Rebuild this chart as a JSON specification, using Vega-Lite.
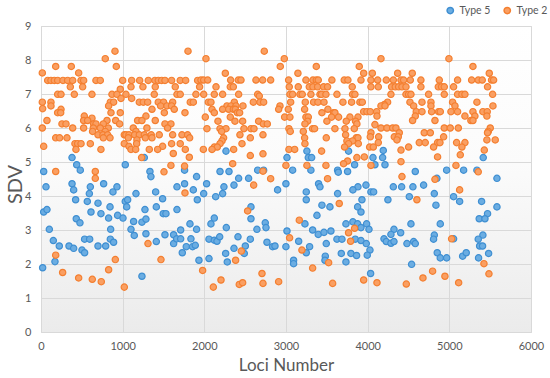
{
"$schema":"https://vega.github.io/schema/vega-lite/v6.json",
"width":490,"height":306,
"autosize":{"type":"none"},
"padding":{"left":41,"top":26,"right":19,"bottom":46},
"background":"#ffffff",
"config":{
"font":"Lato",
"view":{"stroke":"#d9d9d9","fill":{"gradient":"linear","x1":0,"y1":0,"x2":0,"y2":1,"stops":[{"offset":0,"color":"#ffffff"},{"offset":0.45,"color":"#fbfbfb"},{"offset":1,"color":"#ebebeb"}]}},
"axis":{"gridColor":"#d9d9d9","domain":false,"ticks":false,"labelColor":"#595959","labelFontSize":11,"titleColor":"#595959","titleFontWeight":"normal"}
},
"datasets":{
"t5":[
{"locus":380,"sdv":5.13},{"locus":1265,"sdv":5.13},{"locus":437,"sdv":4.92},{"locus":481,"sdv":4.76},{"locus":33,"sdv":4.72},{"locus":1032,"sdv":4.92},{"locus":1334,"sdv":4.72},{"locus":1346,"sdv":4.57},{"locus":1758,"sdv":4.76},{"locus":1905,"sdv":4.57},{"locus":61,"sdv":4.27},{"locus":380,"sdv":4.36},{"locus":400,"sdv":4.18},{"locus":767,"sdv":4.36},{"locus":604,"sdv":4.27},{"locus":930,"sdv":4.27},{"locus":881,"sdv":4.12},{"locus":592,"sdv":4.07},{"locus":1163,"sdv":4.07},{"locus":1404,"sdv":4.12},{"locus":1665,"sdv":4.27},{"locus":1758,"sdv":4.36},{"locus":1865,"sdv":4.18},{"locus":424,"sdv":3.89},{"locus":567,"sdv":3.84},{"locus":698,"sdv":3.79},{"locus":1032,"sdv":3.84},{"locus":1061,"sdv":3.89},{"locus":1489,"sdv":3.92},{"locus":1914,"sdv":3.89},{"locus":1049,"sdv":3.68},{"locus":845,"sdv":3.68},{"locus":1412,"sdv":3.68},{"locus":1273,"sdv":3.60},{"locus":1665,"sdv":3.60},{"locus":33,"sdv":3.53},{"locus":73,"sdv":3.60},{"locus":612,"sdv":3.53},{"locus":734,"sdv":3.48},{"locus":938,"sdv":3.43},{"locus":1004,"sdv":3.35},{"locus":828,"sdv":3.35},{"locus":1497,"sdv":3.48},{"locus":1530,"sdv":3.48},{"locus":432,"sdv":3.33},{"locus":477,"sdv":3.21},{"locus":1134,"sdv":3.25},{"locus":1236,"sdv":3.23},{"locus":1285,"sdv":3.32},{"locus":1824,"sdv":3.18},{"locus":102,"sdv":3.02},{"locus":853,"sdv":3.02},{"locus":1102,"sdv":3.02},{"locus":1710,"sdv":3.00},{"locus":1905,"sdv":3.02},{"locus":1142,"sdv":2.84},{"locus":1285,"sdv":2.89},{"locus":1518,"sdv":2.86},{"locus":1624,"sdv":2.86},{"locus":1624,"sdv":2.60},{"locus":1661,"sdv":2.74},{"locus":1710,"sdv":2.74},{"locus":1836,"sdv":2.74},{"locus":151,"sdv":2.69},{"locus":534,"sdv":2.73},{"locus":596,"sdv":2.73},{"locus":849,"sdv":2.73},{"locus":889,"sdv":2.64},{"locus":1412,"sdv":2.66},{"locus":224,"sdv":2.53},{"locus":343,"sdv":2.53},{"locus":400,"sdv":2.46},{"locus":502,"sdv":2.41},{"locus":534,"sdv":2.33},{"locus":698,"sdv":2.53},{"locus":792,"sdv":2.53},{"locus":1779,"sdv":2.51},{"locus":1856,"sdv":2.51},{"locus":1889,"sdv":2.55},{"locus":1730,"sdv":2.33},{"locus":1934,"sdv":2.11},{"locus":171,"sdv":2.07},{"locus":20,"sdv":1.89},{"locus":1236,"sdv":1.64},
{"locus":2265,"sdv":5.32},{"locus":3256,"sdv":5.32},{"locus":3766,"sdv":5.32},{"locus":3012,"sdv":5.13},{"locus":3273,"sdv":5.13},{"locus":3314,"sdv":5.13},{"locus":2192,"sdv":4.72},{"locus":2302,"sdv":4.72},{"locus":2653,"sdv":4.76},{"locus":2726,"sdv":4.76},{"locus":3081,"sdv":4.76},{"locus":3305,"sdv":4.76},{"locus":3632,"sdv":4.76},{"locus":3640,"sdv":4.70},{"locus":3754,"sdv":4.72},{"locus":3840,"sdv":4.92},{"locus":2420,"sdv":4.52},{"locus":2542,"sdv":4.52},{"locus":2363,"sdv":4.32},{"locus":2240,"sdv":4.27},{"locus":2999,"sdv":4.36},{"locus":3399,"sdv":4.36},{"locus":3416,"sdv":4.27},{"locus":3881,"sdv":4.27},{"locus":3819,"sdv":4.18},{"locus":2028,"sdv":4.36},{"locus":1992,"sdv":4.07},{"locus":2139,"sdv":3.98},{"locus":2224,"sdv":4.07},{"locus":3248,"sdv":4.12},{"locus":3248,"sdv":3.89},{"locus":3632,"sdv":4.07},{"locus":2897,"sdv":4.18},{"locus":2571,"sdv":3.68},{"locus":3440,"sdv":3.73},{"locus":3538,"sdv":3.68},{"locus":3877,"sdv":3.68},{"locus":3379,"sdv":3.43},{"locus":2122,"sdv":3.35},{"locus":2571,"sdv":3.33},{"locus":2081,"sdv":3.18},{"locus":2746,"sdv":3.21},{"locus":2755,"sdv":3.07},{"locus":3232,"sdv":3.18},{"locus":3734,"sdv":3.18},{"locus":3819,"sdv":3.24},{"locus":3877,"sdv":3.18},{"locus":2269,"sdv":3.07},{"locus":2644,"sdv":3.02},{"locus":3012,"sdv":2.97},{"locus":2057,"sdv":2.73},{"locus":2122,"sdv":2.70},{"locus":2155,"sdv":2.67},{"locus":2188,"sdv":2.80},{"locus":2412,"sdv":2.80},{"locus":2563,"sdv":2.73},{"locus":2767,"sdv":2.64},{"locus":2836,"sdv":2.51},{"locus":2865,"sdv":2.53},{"locus":2999,"sdv":2.51},{"locus":3155,"sdv":2.67},{"locus":3289,"sdv":2.51},{"locus":3326,"sdv":3.00},{"locus":3395,"sdv":2.87},{"locus":3465,"sdv":2.93},{"locus":3550,"sdv":2.97},{"locus":3493,"sdv":2.60},{"locus":3624,"sdv":2.73},{"locus":3685,"sdv":2.73},{"locus":3848,"sdv":2.73},{"locus":2363,"sdv":2.46},{"locus":2502,"sdv":2.53},{"locus":2261,"sdv":2.31},{"locus":2489,"sdv":2.31},{"locus":3248,"sdv":2.33},{"locus":3677,"sdv":2.31},{"locus":3795,"sdv":2.31},{"locus":3864,"sdv":2.25},{"locus":3481,"sdv":2.23},{"locus":3093,"sdv":2.11},{"locus":3093,"sdv":2.01},{"locus":3477,"sdv":2.11},{"locus":3734,"sdv":2.06},{"locus":2057,"sdv":2.16},{"locus":2281,"sdv":2.06},
{"locus":4191,"sdv":5.34},
{"locus":4065,"sdv":5.13},{"locus":4183,"sdv":5.13},{"locus":5415,"sdv":5.13},{"locus":4212,"sdv":4.92},{"locus":4089,"sdv":4.92},{"locus":4583,"sdv":4.72},{"locus":4967,"sdv":4.76},{"locus":5175,"sdv":4.76},{"locus":5338,"sdv":4.76},{"locus":5583,"sdv":4.52},{"locus":4848,"sdv":4.52},{"locus":3979,"sdv":4.32},{"locus":4314,"sdv":4.27},{"locus":4416,"sdv":4.27},{"locus":4554,"sdv":4.27},{"locus":4685,"sdv":4.32},{"locus":4040,"sdv":4.12},{"locus":4073,"sdv":4.12},{"locus":4816,"sdv":4.07},{"locus":5052,"sdv":3.98},{"locus":4510,"sdv":3.98},{"locus":3930,"sdv":3.89},{"locus":4248,"sdv":3.89},{"locus":5126,"sdv":3.84},{"locus":5395,"sdv":3.84},{"locus":4836,"sdv":3.73},{"locus":5583,"sdv":3.68},{"locus":5468,"sdv":3.48},{"locus":5366,"sdv":3.33},{"locus":5436,"sdv":3.33},{"locus":3918,"sdv":3.53},{"locus":3987,"sdv":3.18},{"locus":4016,"sdv":3.02},{"locus":3918,"sdv":3.07},{"locus":4530,"sdv":3.18},{"locus":4889,"sdv":3.18},{"locus":4322,"sdv":3.02},{"locus":4285,"sdv":2.87},{"locus":4404,"sdv":2.92},{"locus":4200,"sdv":2.74},{"locus":4228,"sdv":2.66},{"locus":4285,"sdv":2.61},{"locus":4322,"sdv":2.66},{"locus":4481,"sdv":2.60},{"locus":4563,"sdv":2.66},{"locus":4583,"sdv":2.60},{"locus":4816,"sdv":2.85},{"locus":4807,"sdv":2.73},{"locus":5052,"sdv":2.74},{"locus":5411,"sdv":2.85},{"locus":5354,"sdv":2.73},{"locus":5371,"sdv":2.53},{"locus":5407,"sdv":2.53},{"locus":3918,"sdv":2.69},{"locus":3983,"sdv":2.60},{"locus":4028,"sdv":2.41},{"locus":3995,"sdv":2.26},{"locus":4852,"sdv":2.33},{"locus":4889,"sdv":2.18},{"locus":4967,"sdv":2.18},{"locus":5163,"sdv":2.23},{"locus":5207,"sdv":2.33},{"locus":5358,"sdv":2.18},{"locus":5481,"sdv":2.31},{"locus":4538,"sdv":1.99},{"locus":4036,"sdv":1.72}
],
"t2":[
{"locus":906,"sdv":8.26},{"locus":787,"sdv":8.04},{"locus":1800,"sdv":8.26},{"locus":922,"sdv":7.81},{"locus":180,"sdv":7.81},{"locus":371,"sdv":7.81},{"locus":16,"sdv":7.62},{"locus":461,"sdv":7.62},{"locus":20,"sdv":6.57},
{"locus":82,"sdv":7.40},{"locus":122,"sdv":7.40},{"locus":163,"sdv":7.40},{"locus":204,"sdv":7.40},{"locus":269,"sdv":7.40},{"locus":326,"sdv":7.40},{"locus":388,"sdv":7.40},{"locus":490,"sdv":7.40},{"locus":522,"sdv":7.40},{"locus":673,"sdv":7.40},{"locus":726,"sdv":7.40},{"locus":1000,"sdv":7.40},{"locus":1110,"sdv":7.40},{"locus":1208,"sdv":7.40},{"locus":1314,"sdv":7.40},{"locus":1395,"sdv":7.40},{"locus":1436,"sdv":7.40},{"locus":1477,"sdv":7.40},{"locus":1518,"sdv":7.40},{"locus":1599,"sdv":7.40},{"locus":1705,"sdv":7.40},{"locus":1771,"sdv":7.40},{"locus":1918,"sdv":7.40},
{"locus":359,"sdv":7.21},{"locus":510,"sdv":7.21},{"locus":1102,"sdv":7.21},{"locus":1248,"sdv":7.21},{"locus":1399,"sdv":7.21},{"locus":1644,"sdv":7.21},{"locus":1942,"sdv":7.21},{"locus":971,"sdv":7.14},
{"locus":204,"sdv":6.99},{"locus":245,"sdv":6.99},{"locus":408,"sdv":6.99},{"locus":624,"sdv":6.99},{"locus":869,"sdv":6.99},{"locus":930,"sdv":6.99},{"locus":1040,"sdv":6.99},{"locus":1387,"sdv":6.99},{"locus":1665,"sdv":6.99},{"locus":1705,"sdv":6.99},{"locus":1897,"sdv":6.99},{"locus":979,"sdv":6.87},{"locus":1110,"sdv":6.87},
{"locus":16,"sdv":6.76},{"locus":122,"sdv":6.76},{"locus":849,"sdv":6.76},{"locus":889,"sdv":6.76},{"locus":1204,"sdv":6.76},{"locus":1253,"sdv":6.76},{"locus":1306,"sdv":6.76},{"locus":1436,"sdv":6.76},{"locus":1501,"sdv":6.76},{"locus":1612,"sdv":6.76},{"locus":1828,"sdv":6.76},{"locus":1865,"sdv":6.76},
{"locus":122,"sdv":6.65},{"locus":828,"sdv":6.65},{"locus":1465,"sdv":6.65},{"locus":1542,"sdv":6.65},{"locus":1599,"sdv":6.65},{"locus":245,"sdv":6.55},{"locus":1359,"sdv":6.55},{"locus":1632,"sdv":6.55},
{"locus":204,"sdv":6.45},{"locus":241,"sdv":6.45},{"locus":857,"sdv":6.45},{"locus":971,"sdv":6.45},{"locus":1510,"sdv":6.45},{"locus":1763,"sdv":6.45},{"locus":530,"sdv":6.35},{"locus":1285,"sdv":6.35},{"locus":624,"sdv":6.29},
{"locus":73,"sdv":6.22},{"locus":522,"sdv":6.22},{"locus":571,"sdv":6.22},{"locus":808,"sdv":6.22},{"locus":914,"sdv":6.22},{"locus":1183,"sdv":6.22},{"locus":1236,"sdv":6.22},{"locus":1399,"sdv":6.22},
{"locus":257,"sdv":6.12},{"locus":306,"sdv":6.12},{"locus":645,"sdv":6.12},{"locus":673,"sdv":6.12},{"locus":763,"sdv":6.12},{"locus":963,"sdv":6.12},{"locus":1518,"sdv":6.12},{"locus":1591,"sdv":6.12},
{"locus":16,"sdv":6.0},{"locus":388,"sdv":6.0},{"locus":522,"sdv":6.0},{"locus":641,"sdv":6.0},{"locus":726,"sdv":6.0},{"locus":824,"sdv":6.0},{"locus":1130,"sdv":6.0},{"locus":1297,"sdv":6.0},{"locus":1550,"sdv":6.0},{"locus":632,"sdv":5.9},{"locus":787,"sdv":5.9},{"locus":1163,"sdv":5.9},
{"locus":698,"sdv":5.8},{"locus":759,"sdv":5.8},{"locus":816,"sdv":5.8},{"locus":1020,"sdv":5.8},{"locus":1040,"sdv":5.8},{"locus":1077,"sdv":5.8},{"locus":1146,"sdv":5.8},{"locus":1204,"sdv":5.8},{"locus":1265,"sdv":5.8},{"locus":1350,"sdv":5.8},{"locus":1448,"sdv":5.8},{"locus":1612,"sdv":5.8},{"locus":1726,"sdv":5.8},{"locus":1795,"sdv":5.8},
{"locus":180,"sdv":5.71},{"locus":228,"sdv":5.71},{"locus":318,"sdv":5.71},{"locus":763,"sdv":5.71},{"locus":845,"sdv":5.71},{"locus":1069,"sdv":5.71},{"locus":1277,"sdv":5.71},{"locus":1359,"sdv":5.71},{"locus":1820,"sdv":5.71},{"locus":1175,"sdv":5.65},
{"locus":416,"sdv":5.54},{"locus":449,"sdv":5.54},{"locus":490,"sdv":5.54},{"locus":604,"sdv":5.54},{"locus":1020,"sdv":5.54},{"locus":1171,"sdv":5.54},{"locus":1599,"sdv":5.54},{"locus":1705,"sdv":5.54},{"locus":33,"sdv":5.46},{"locus":1077,"sdv":5.46},{"locus":1489,"sdv":5.46},
{"locus":428,"sdv":5.37},{"locus":734,"sdv":5.37},{"locus":1102,"sdv":5.37},{"locus":1159,"sdv":5.37},{"locus":1326,"sdv":5.37},{"locus":1428,"sdv":5.37},{"locus":1767,"sdv":5.37},
{"locus":1232,"sdv":5.13},{"locus":1620,"sdv":5.25},{"locus":1816,"sdv":5.14},{"locus":180,"sdv":4.72},{"locus":665,"sdv":4.72},{"locus":665,"sdv":4.52},{"locus":1591,"sdv":4.90},{"locus":1506,"sdv":4.71},{"locus":1758,"sdv":4.88},{"locus":1763,"sdv":4.09},{"locus":1310,"sdv":2.60},{"locus":180,"sdv":2.26},{"locus":910,"sdv":2.13},{"locus":1469,"sdv":2.13},{"locus":828,"sdv":1.83},{"locus":265,"sdv":1.75},{"locus":461,"sdv":1.59},{"locus":628,"sdv":1.55},{"locus":738,"sdv":1.48},{"locus":1020,"sdv":1.32},
{"locus":2734,"sdv":8.26},{"locus":2979,"sdv":8.04},{"locus":2930,"sdv":7.81},{"locus":3371,"sdv":7.81},{"locus":3897,"sdv":7.81},{"locus":2257,"sdv":7.61},{"locus":3146,"sdv":7.61},{"locus":2020,"sdv":8.04},
{"locus":1959,"sdv":7.41},{"locus":1992,"sdv":7.41},{"locus":2041,"sdv":7.41},{"locus":2322,"sdv":7.41},{"locus":2416,"sdv":7.41},{"locus":2449,"sdv":7.41},{"locus":2632,"sdv":7.41},{"locus":2714,"sdv":7.41},{"locus":2812,"sdv":7.41},{"locus":3032,"sdv":7.41},{"locus":3244,"sdv":7.41},{"locus":3330,"sdv":7.41},{"locus":3371,"sdv":7.41},{"locus":3395,"sdv":7.41},{"locus":3562,"sdv":7.41},{"locus":3713,"sdv":7.41},{"locus":3758,"sdv":7.41},
{"locus":2143,"sdv":7.21},{"locus":2318,"sdv":7.21},{"locus":2355,"sdv":7.21},{"locus":3040,"sdv":7.21},{"locus":3150,"sdv":7.21},{"locus":3285,"sdv":7.21},{"locus":3330,"sdv":7.21},{"locus":3387,"sdv":7.21},{"locus":3460,"sdv":7.21},{"locus":3509,"sdv":7.21},{"locus":3811,"sdv":7.21},
{"locus":1992,"sdv":6.99},{"locus":2122,"sdv":6.99},{"locus":2224,"sdv":6.99},{"locus":2420,"sdv":6.99},{"locus":2653,"sdv":6.99},{"locus":3048,"sdv":6.99},{"locus":3081,"sdv":6.99},{"locus":3171,"sdv":6.99},{"locus":3199,"sdv":6.99},{"locus":3305,"sdv":6.99},{"locus":3416,"sdv":6.99},{"locus":3436,"sdv":6.99},{"locus":3489,"sdv":6.99},{"locus":3624,"sdv":6.99},{"locus":3815,"sdv":6.99},{"locus":3844,"sdv":6.99},{"locus":2673,"sdv":6.94},
{"locus":2049,"sdv":6.76},{"locus":2081,"sdv":6.76},{"locus":2367,"sdv":6.76},{"locus":2600,"sdv":6.76},{"locus":2681,"sdv":6.76},{"locus":2726,"sdv":6.76},{"locus":3057,"sdv":6.76},{"locus":3236,"sdv":6.76},{"locus":3338,"sdv":6.76},{"locus":3391,"sdv":6.76},{"locus":3465,"sdv":6.76},{"locus":3697,"sdv":6.76},{"locus":3803,"sdv":6.76},{"locus":3905,"sdv":6.76},
{"locus":2277,"sdv":6.65},{"locus":2326,"sdv":6.65},{"locus":2387,"sdv":6.65},{"locus":2473,"sdv":6.65},{"locus":2926,"sdv":6.65},
{"locus":2094,"sdv":6.55},{"locus":2224,"sdv":6.55},{"locus":2298,"sdv":6.55},{"locus":2355,"sdv":6.55},{"locus":2379,"sdv":6.55},{"locus":2910,"sdv":6.55},{"locus":3028,"sdv":6.55},{"locus":3228,"sdv":6.55},{"locus":3513,"sdv":6.55},
{"locus":2122,"sdv":6.45},{"locus":2404,"sdv":6.45},{"locus":2432,"sdv":6.45},{"locus":3440,"sdv":6.45},{"locus":3583,"sdv":6.45},{"locus":3599,"sdv":6.45},
{"locus":2012,"sdv":6.32},{"locus":2318,"sdv":6.32},{"locus":2983,"sdv":6.32},{"locus":3048,"sdv":6.32},{"locus":3244,"sdv":6.32},{"locus":3273,"sdv":6.32},{"locus":3558,"sdv":6.32},{"locus":3644,"sdv":6.32},{"locus":3783,"sdv":6.32},{"locus":3881,"sdv":6.32},
{"locus":2167,"sdv":6.2},{"locus":2375,"sdv":6.2},{"locus":2469,"sdv":6.2},{"locus":2665,"sdv":6.2},{"locus":3265,"sdv":6.2},{"locus":3501,"sdv":6.2},{"locus":3738,"sdv":6.2},{"locus":3852,"sdv":6.2},
{"locus":2722,"sdv":6.12},{"locus":2771,"sdv":6.12},{"locus":3232,"sdv":6.12},{"locus":3868,"sdv":6.12},
{"locus":2032,"sdv":5.98},{"locus":2192,"sdv":5.98},{"locus":2265,"sdv":5.98},{"locus":2485,"sdv":5.98},{"locus":2571,"sdv":5.98},{"locus":2608,"sdv":5.98},{"locus":3036,"sdv":5.98},{"locus":3326,"sdv":5.98},{"locus":3350,"sdv":5.98},{"locus":3599,"sdv":5.98},{"locus":3722,"sdv":5.98},{"locus":3836,"sdv":5.98},
{"locus":2212,"sdv":5.9},{"locus":3052,"sdv":5.9},{"locus":3212,"sdv":5.9},{"locus":2436,"sdv":5.8},{"locus":2718,"sdv":5.8},{"locus":3730,"sdv":5.8},
{"locus":2236,"sdv":5.71},{"locus":2563,"sdv":5.71},{"locus":3228,"sdv":5.71},{"locus":3493,"sdv":5.71},{"locus":3860,"sdv":5.71},{"locus":3881,"sdv":5.71},{"locus":2216,"sdv":5.62},{"locus":3746,"sdv":5.62},{"locus":3815,"sdv":5.62},
{"locus":2192,"sdv":5.54},{"locus":2461,"sdv":5.54},{"locus":3232,"sdv":5.54},{"locus":3766,"sdv":5.54},{"locus":3885,"sdv":5.54},{"locus":2122,"sdv":5.44},{"locus":2159,"sdv":5.44},{"locus":3717,"sdv":5.44},
{"locus":1988,"sdv":5.37},{"locus":2094,"sdv":5.37},{"locus":2359,"sdv":5.37},{"locus":3036,"sdv":5.37},{"locus":3106,"sdv":5.37},
{"locus":3436,"sdv":5.32},{"locus":2563,"sdv":5.19},{"locus":2718,"sdv":5.24},{"locus":3868,"sdv":5.13},{"locus":3754,"sdv":5.03},{"locus":3705,"sdv":4.95},{"locus":2347,"sdv":4.95},{"locus":2718,"sdv":4.73},{"locus":2999,"sdv":4.90},{"locus":3256,"sdv":4.90},{"locus":3489,"sdv":4.90},{"locus":2812,"sdv":4.51},{"locus":3509,"sdv":4.51},{"locus":2604,"sdv":4.32},{"locus":3652,"sdv":3.78},{"locus":2530,"sdv":3.56},{"locus":3163,"sdv":3.29},{"locus":3766,"sdv":2.92},{"locus":3840,"sdv":3.05},{"locus":3791,"sdv":2.67},{"locus":3044,"sdv":2.77},{"locus":3195,"sdv":2.41},{"locus":2453,"sdv":2.38},{"locus":2383,"sdv":2.11},{"locus":3522,"sdv":2.04},{"locus":3326,"sdv":1.88},{"locus":1979,"sdv":1.81},{"locus":2706,"sdv":1.72},{"locus":2204,"sdv":1.53},{"locus":2110,"sdv":1.32},{"locus":2428,"sdv":1.40},{"locus":2469,"sdv":1.45},{"locus":2718,"sdv":1.43},{"locus":2910,"sdv":1.48},{"locus":3571,"sdv":1.43},
{"locus":4163,"sdv":8.04},{"locus":4995,"sdv":8.04},{"locus":5289,"sdv":7.81},
{"locus":3951,"sdv":7.61},{"locus":4057,"sdv":7.61},{"locus":4367,"sdv":7.61},{"locus":4546,"sdv":7.61},{"locus":5489,"sdv":7.61},
{"locus":3918,"sdv":7.41},{"locus":4040,"sdv":7.41},{"locus":4122,"sdv":7.41},{"locus":4228,"sdv":7.41},{"locus":4314,"sdv":7.41},{"locus":4408,"sdv":7.41},{"locus":4440,"sdv":7.41},{"locus":4522,"sdv":7.41},{"locus":4652,"sdv":7.41},{"locus":4877,"sdv":7.41},{"locus":5101,"sdv":7.41},{"locus":5273,"sdv":7.41},{"locus":5354,"sdv":7.41},{"locus":5403,"sdv":7.41},{"locus":5517,"sdv":7.41},{"locus":5542,"sdv":7.41},
{"locus":4040,"sdv":7.21},{"locus":4130,"sdv":7.21},{"locus":4293,"sdv":7.21},{"locus":4338,"sdv":7.21},{"locus":4379,"sdv":7.21},{"locus":4420,"sdv":7.21},{"locus":4469,"sdv":7.21},{"locus":4652,"sdv":7.21},{"locus":4865,"sdv":7.21},{"locus":4905,"sdv":7.21},{"locus":4938,"sdv":7.21},{"locus":5052,"sdv":7.21},{"locus":5468,"sdv":7.21},
{"locus":4285,"sdv":6.99},{"locus":4469,"sdv":6.99},{"locus":4501,"sdv":6.99},{"locus":4530,"sdv":6.99},{"locus":4746,"sdv":6.99},{"locus":4938,"sdv":6.99},{"locus":5101,"sdv":6.99},{"locus":5154,"sdv":6.99},{"locus":5191,"sdv":6.99},{"locus":5530,"sdv":6.99},
{"locus":3934,"sdv":6.76},{"locus":4244,"sdv":6.76},{"locus":4518,"sdv":6.76},{"locus":4665,"sdv":6.76},{"locus":4775,"sdv":6.76},{"locus":5040,"sdv":6.76},{"locus":5338,"sdv":6.76},{"locus":4204,"sdv":6.69},
{"locus":4163,"sdv":6.65},{"locus":4212,"sdv":6.65},{"locus":4563,"sdv":6.65},{"locus":4775,"sdv":6.65},{"locus":5069,"sdv":6.65},{"locus":5534,"sdv":6.65},
{"locus":3951,"sdv":6.48},{"locus":3991,"sdv":6.48},{"locus":4032,"sdv":6.48},{"locus":4110,"sdv":6.48},{"locus":4595,"sdv":6.48},{"locus":4665,"sdv":6.48},{"locus":4783,"sdv":6.48},{"locus":4869,"sdv":6.48},{"locus":4889,"sdv":6.48},{"locus":5020,"sdv":6.48},{"locus":5101,"sdv":6.48},{"locus":5289,"sdv":6.48},{"locus":5411,"sdv":6.48},{"locus":5464,"sdv":6.48},
{"locus":4114,"sdv":6.35},{"locus":4583,"sdv":6.35},{"locus":5191,"sdv":6.35},{"locus":5313,"sdv":6.35},{"locus":5460,"sdv":6.35},
{"locus":4550,"sdv":6.22},{"locus":4824,"sdv":6.22},{"locus":5264,"sdv":6.22},{"locus":5289,"sdv":6.22},{"locus":4089,"sdv":6.1},
{"locus":4163,"sdv":6.0},{"locus":4236,"sdv":6.0},{"locus":4306,"sdv":6.0},{"locus":4346,"sdv":6.0},{"locus":4938,"sdv":6.0},{"locus":5011,"sdv":6.0},{"locus":5110,"sdv":6.0},{"locus":5501,"sdv":6.0},{"locus":5477,"sdv":5.9},
{"locus":4040,"sdv":5.86},{"locus":4387,"sdv":5.86},{"locus":4693,"sdv":5.86},{"locus":4767,"sdv":5.86},{"locus":5468,"sdv":5.86},
{"locus":4032,"sdv":5.74},{"locus":4134,"sdv":5.74},{"locus":4326,"sdv":5.74},{"locus":4375,"sdv":5.74},{"locus":4930,"sdv":5.74},{"locus":4359,"sdv":5.65},{"locus":5460,"sdv":5.65},{"locus":5562,"sdv":5.65},
{"locus":4130,"sdv":5.57},{"locus":4632,"sdv":5.57},{"locus":4705,"sdv":5.57},{"locus":4856,"sdv":5.57},{"locus":4885,"sdv":5.57},{"locus":5089,"sdv":5.57},{"locus":5191,"sdv":5.57},
{"locus":4024,"sdv":5.44},{"locus":4069,"sdv":5.44},{"locus":4501,"sdv":5.44},{"locus":4807,"sdv":5.44},{"locus":5154,"sdv":5.44},{"locus":4408,"sdv":5.35},{"locus":5428,"sdv":5.35},
{"locus":3959,"sdv":5.15},{"locus":4408,"sdv":5.01},{"locus":4040,"sdv":4.90},{"locus":4856,"sdv":5.15},{"locus":5134,"sdv":5.21},{"locus":5081,"sdv":4.90},{"locus":5354,"sdv":4.71},{"locus":4420,"sdv":4.57},{"locus":4824,"sdv":4.49},{"locus":5126,"sdv":4.18},{"locus":4603,"sdv":3.89},{"locus":5028,"sdv":2.74},{"locus":5424,"sdv":2.01},{"locus":5485,"sdv":1.71},{"locus":4795,"sdv":1.79},{"locus":4677,"sdv":1.59},{"locus":4946,"sdv":1.64},{"locus":3951,"sdv":1.53},{"locus":4114,"sdv":1.45},{"locus":4473,"sdv":1.41},{"locus":5114,"sdv":1.45}
]
},
"layer":[
{"data":{"name":"t5"},
"mark":{"type":"point","filled":true,"size":40,"strokeWidth":1.2,"opacity":1},
"encoding":{"fill":{"datum":"Type 5"},"stroke":{"datum":"Type 5"}}},
{"data":{"name":"t2"},
"mark":{"type":"point","filled":true,"size":40,"strokeWidth":1.2,"opacity":1},
"encoding":{"fill":{"datum":"Type 2"},"stroke":{"datum":"Type 2"}}}
],
"encoding":{
"x":{"field":"locus","type":"quantitative","scale":{"domain":[0,6000],"nice":false},"axis":{"values":[0,1000,2000,3000,4000,5000,6000],"format":"d","title":"Loci Number","titleFontSize":17,"labelPadding":8,"titlePadding":6,"labelFlush":false}},
"y":{"field":"sdv","type":"quantitative","scale":{"domain":[0,9],"nice":false},"axis":{"values":[0,1,2,3,4,5,6,7,8,9],"title":"SDV","titleFontSize":20,"labelPadding":10,"titleX":-26,"titleY":158,"titleAngle":-90,"titleAlign":"center","titleBaseline":"middle"}},
"fill":{"type":"nominal","scale":{"domain":["Type 5","Type 2"],"range":["#6badE2","#fa9f62"]},"legend":{"orient":"none","legendX":404,"legendY":-21,"direction":"horizontal","title":null,"labelFontSize":10.5,"labelColor":"#595959","symbolSize":40,"symbolType":"circle","columnPadding":10}},
"stroke":{"type":"nominal","scale":{"domain":["Type 5","Type 2"],"range":["#3f8fd2","#f47f30"]}}
}
}
